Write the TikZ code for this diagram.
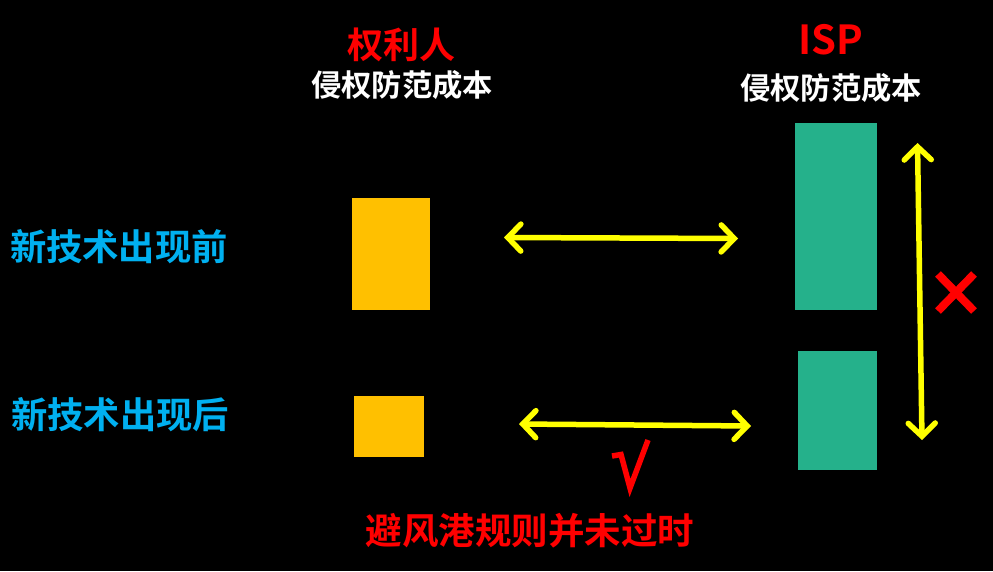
\documentclass[tikz,border=0pt]{standalone}
\usepackage{fontspec}
\newfontfamily\cjk{Noto Sans CJK SC}[BoldFont={Noto Sans CJK SC Bold}]
\usetikzlibrary{arrows.meta}
\definecolor{myorange}{RGB}{255,192,0}
\definecolor{mygreen}{RGB}{37,177,139}
\definecolor{myblue}{RGB}{0,176,240}
\definecolor{myred}{RGB}{255,0,0}
\definecolor{myyellow}{RGB}{255,255,0}
\begin{document}
\begin{tikzpicture}[x=1pt,y=-1pt,
  txt/.style={font=\cjk\bfseries, inner sep=0pt},
  dbl/.style={draw=myyellow, line width=5.5pt, line cap=round,
    {Straight Barb[length=13pt,width=27pt,line cap=round]}-{Straight Barb[length=13pt,width=27pt,line cap=round]}}]
\fill[black] (0,0) rectangle (993,571);
\useasboundingbox (0,0) rectangle (993,571);
% labels
\node[txt, text=myred, font=\cjk\bfseries\fontsize{36}{40}\selectfont] (rh) at (401,45) {权利人};
\node[txt, text=white, font=\cjk\bfseries\fontsize{30.3}{34}\selectfont] (rhc) at (402,85) {侵权防范成本};
\node[txt, text=myred, font=\cjk\bfseries\fontsize{40}{44}\selectfont] (isp) at (831,40) {ISP};
\node[txt, text=white, font=\cjk\bfseries\fontsize{30.3}{34}\selectfont] (ispc) at (831,88) {侵权防范成本};
\node[txt, text=myblue, font=\cjk\bfseries\fontsize{36.3}{40}\selectfont] (before) at (119,247) {新技术出现前};
\node[txt, text=myblue, font=\cjk\bfseries\fontsize{36.3}{40}\selectfont] (after) at (120,415) {新技术出现后};
\node[txt, text=myred, font=\cjk\bfseries\fontsize{36.5}{40}\selectfont] (rule) at (530,531) {避风港规则并未过时};
% check mark
\coordinate (c1) at (612,456);
\coordinate (c2) at (621,454.5);
\coordinate (c3) at (630,488);
\coordinate (c4) at (648,440);
\draw[myred, line width=5.5pt, line join=miter] (c1) -- (c2) -- (c3) -- (c4);
% bars
\fill[myorange] (352,198) rectangle (430,310);
\fill[myorange] (354,396) rectangle (424,457);
\fill[mygreen] (795,123) rectangle (877,310);
\fill[mygreen] (798,351) rectangle (877,470);
% arrows
\coordinate (a1) at (504,237.5);
\coordinate (b1) at (738,238.5);
\coordinate (a2) at (519,424);
\coordinate (b2) at (751,426);
\coordinate (a3) at (917.5,143);
\coordinate (b3) at (922,440);
\draw[dbl] (a1) -- (b1);
\draw[dbl] (a2) -- (b2);
\draw[dbl] (a3) -- (b3);
% cross
\coordinate (x1) at (938,274);
\coordinate (x2) at (974,311);
\coordinate (x3) at (974,274);
\coordinate (x4) at (938,311);
\draw[myred, line width=8pt] (x1) -- (x2);
\draw[myred, line width=8pt] (x3) -- (x4);
\end{tikzpicture}
\end{document}
